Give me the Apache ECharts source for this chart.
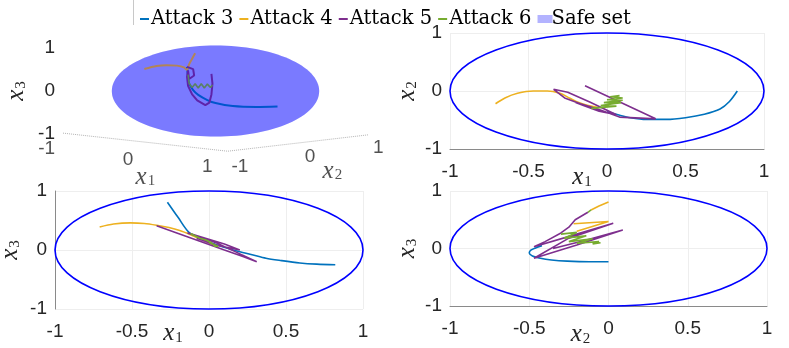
<!DOCTYPE html>
<html>
<head>
<meta charset="utf-8">
<script src="https://cdn.jsdelivr.net/npm/echarts@6/dist/echarts.min.js"></script>
<style>
html, body { margin: 0; padding: 0; background: #fff; }
#chart { width: 789px; height: 348px; }
</style>
</head>
<body>
<div id="chart"></div>
<script>
// legend names
const attackNames = ['Attack 3', 'Attack 4', 'Attack 5', 'Attack 6'];
const attackColors = ['#0072BD', '#EDB120', '#7E2F8E', '#77AC30'];

// safe set: [cx, cy, rx, ry] in each panel's units
const safe3d = [[0, 0, 1.02, 1.06]];
const safe2d = [[0, 0, 1, 1]];

// 3D panel (projected screen units u, v)
const a3_3d = [[0.61,-0.36],[0.4,-0.37],[0.17,-0.35],[0.0,-0.28],[-0.08,-0.21],[-0.17,-0.09],[-0.22,0.02],[-0.26,0.18],[-0.27,0.33],[-0.28,0.56]];
const a4_3d = [[-0.7,0.51],[-0.58,0.58],[-0.48,0.6],[-0.38,0.59],[-0.31,0.55],[-0.28,0.49],[-0.26,0.62],[-0.23,0.75],[-0.2,0.88]];
const a5_3d = [[-0.28,0.56],[-0.22,0.51],[-0.21,0.36],[-0.26,0.28],[-0.27,0.48],[-0.28,0.33],[-0.27,0.12],[-0.23,-0.08],[-0.18,-0.22],[-0.1,-0.33],[-0.06,-0.27],[-0.04,-0.08],[-0.03,0.17],[-0.04,0.4]];
const a6_3d = [[-0.27,0.38],[-0.26,0.18],[-0.23,0.08],[-0.2,0.17],[-0.17,0.07],[-0.14,0.17],[-0.11,0.07],[-0.08,0.16],[-0.05,0.08],[-0.03,0.14]];
const boxU = [-1.5, 0.12, 1.5];
const boxV = [-0.98, -1.4, -1.02];
const ticks3d = [['-1', -1.66, -1.35], ['0', -0.86, -1.6], ['1', -0.08, -1.77], ['-1', 0.24, -1.77], ['0', 0.93, -1.53], ['1', 1.6, -1.33]];
const names3d = [['{x|x}{s|1}', -0.69, -2.0], ['{x|x}{s|2}', 1.15, -1.86]];

// x1 vs x2
const a3_12 = [[0.83,0.0],[0.78,-0.18],[0.72,-0.31],[0.62,-0.4],[0.5,-0.46],[0.38,-0.49],[0.25,-0.49],[0.15,-0.46],[0.07,-0.41],[0.0,-0.36]];
const a4_12 = [[-0.71,-0.22],[-0.65,-0.12],[-0.57,-0.04],[-0.47,0.0],[-0.38,0.0],[-0.3,-0.04],[-0.24,-0.12],[-0.18,-0.2],[-0.12,-0.25],[-0.06,-0.28]];
const a5_12 = [[-0.14,0.09],[0.31,-0.48],[0.08,-0.45],[-0.06,-0.31],[-0.17,-0.22],[-0.27,-0.12],[-0.34,0.03],[-0.25,-0.02],[-0.11,-0.19],[0.06,-0.41],[-0.05,-0.35],[-0.15,-0.25],[-0.2,-0.2]];
const a6_12 = [[-0.1,-0.3],[0.06,-0.26],[-0.04,-0.25],[0.09,-0.2],[-0.02,-0.2],[0.1,-0.16],[0.0,-0.15],[0.1,-0.12],[0.02,-0.1],[0.08,-0.08]];

// x1 vs x3
const a3_13 = [[0.82,-0.25],[0.7,-0.24],[0.59,-0.22],[0.47,-0.18],[0.37,-0.14],[0.28,-0.08],[0.2,-0.03],[0.12,0.03],[0.05,0.09],[-0.04,0.18],[-0.13,0.3],[-0.2,0.55],[-0.27,0.81]];
const a4_13 = [[-0.71,0.39],[-0.62,0.44],[-0.51,0.46],[-0.42,0.45],[-0.34,0.42],[-0.26,0.38],[-0.19,0.33],[-0.12,0.26],[-0.05,0.18],[0.03,0.09]];
const a5_13 = [[-0.34,0.41],[-0.2,0.28],[-0.05,0.14],[0.1,0.0],[0.22,-0.11],[0.31,-0.2],[0.18,-0.04],[0.05,0.12],[-0.05,0.21],[-0.14,0.29],[-0.05,0.22],[0.1,0.1],[0.2,0.0],[0.05,0.08],[-0.08,0.2]];
const a6_13 = [[-0.12,0.28],[-0.06,0.2],[-0.02,0.17],[0.02,0.12],[0.0,0.13],[0.06,0.06],[0.03,0.07]];

// x2 vs x3
const a3_23 = [[0.0,-0.23],[-0.12,-0.23],[-0.26,-0.22],[-0.36,-0.2],[-0.43,-0.17],[-0.48,-0.13],[-0.5,-0.08],[-0.49,-0.03],[-0.46,0.01],[-0.42,0.05]];
const a4_23a = [[0.0,0.81],[-0.06,0.74],[-0.11,0.67]];
const a4_23b = [[-0.22,0.43],[0.0,0.47],[-0.2,0.3]];
const a5_23 = [[-0.13,0.63],[-0.21,0.5],[-0.25,0.37],[-0.3,0.27],[-0.4,0.12],[-0.47,0.03],[-0.2,0.25],[0.03,0.44],[-0.25,0.18],[-0.47,-0.17],[-0.2,0.06],[0.09,0.32],[-0.15,0.14],[-0.35,0.0]];
const a6_23 = [[-0.11,0.67],[-0.13,0.63],null,[-0.3,0.25],[-0.2,0.28],[-0.28,0.18],[-0.14,0.22],[-0.25,0.12],[-0.1,0.17],[-0.2,0.09],[-0.06,0.12],[-0.1,0.08],[-0.05,0.1]];

const axisColor = '#262626';
const tickFont = { fontFamily: 'Liberation Sans', fontSize: 19, color: axisColor };
const nameRich = {
  x: { fontFamily: 'Liberation Serif', fontStyle: 'italic', fontSize: 25, color: axisColor },
  s: { fontFamily: 'Liberation Serif', fontSize: 15, color: axisColor, padding: [9, 0, 0, 1] }
};
const faint = { show: true, lineStyle: { color: '#eeeeee', width: 1 } };

function xAx(grid, name, showLine, gap, shift) {
  return {
    type: 'value', gridIndex: grid, min: -1, max: 1, interval: 0.5,
    axisLine: { show: showLine, onZero: false, lineStyle: { color: '#8a8a8a' } },
    axisTick: { show: false },
    axisLabel: Object.assign({ margin: 13 }, tickFont),
    splitLine: faint,
    name: name, nameLocation: 'middle', nameGap: gap, nameMoveOverlap: false,
    nameTextStyle: { rich: nameRich, padding: [0, shift, 0, 0] }
  };
}
function yAx(grid, name, showLine, gap) {
  return {
    type: 'value', gridIndex: grid, min: -1, max: 1, interval: 1,
    axisLine: { show: showLine, onZero: false, lineStyle: { color: '#8a8a8a' } },
    axisTick: { show: false },
    axisLabel: Object.assign({ margin: 8 }, tickFont),
    splitLine: faint,
    name: name, nameLocation: 'middle', nameGap: gap, nameRotate: 90, nameMoveOverlap: false,
    nameTextStyle: { rich: nameRich }
  };
}

// the 3D safe set is a translucent surface: a back layer under the paths, a front layer over them
function ellipseSeries(idx, fill, z) {
  return {
    type: 'custom', name: 'Safe set', xAxisIndex: idx, yAxisIndex: idx,
    z: z, silent: true,
    itemStyle: { color: '#b3b3ff' },
    data: fill ? safe3d : safe2d,
    renderItem: function (params, api) {
      const c = api.coord([api.value(0), api.value(1)]);
      const s = api.size([api.value(2), api.value(3)]);
      return {
        type: 'ellipse',
        shape: { cx: c[0], cy: c[1], rx: s[0], ry: s[1] },
        style: fill
          ? { fill: fill, stroke: null }
          : { fill: null, stroke: '#0000ff', lineWidth: 1.6 }
      };
    }
  };
}
function lineSeries(idx, k, data, smooth, width) {
  return {
    type: 'line', name: attackNames[k], xAxisIndex: idx, yAxisIndex: idx,
    data: data, symbol: 'none', z: 2, clip: false, smooth: smooth || false,
    color: attackColors[k],
    itemStyle: { color: attackColors[k] },
    lineStyle: { width: width || 1.6, color: attackColors[k] }
  };
}

const series = [
  ellipseSeries(0, 'rgba(0,0,255,0.36)', 1),
  lineSeries(0, 0, a3_3d, 0.3, 2), lineSeries(0, 1, a4_3d, 0.3, 2), lineSeries(0, 2, a5_3d, false, 2), lineSeries(0, 3, a6_3d, false, 1.6),
  ellipseSeries(0, 'rgba(0,0,255,0.25)', 5),
  {
    type: 'line', xAxisIndex: 0, yAxisIndex: 0, symbol: 'none', clip: false, silent: true,
    data: boxU.map((u, i) => [u, boxV[i]]),
    lineStyle: { color: '#b4b4b4', width: 1, type: 'dotted' }
  },
  {
    type: 'scatter', xAxisIndex: 0, yAxisIndex: 0, symbolSize: 0, clip: false, silent: true,
    data: ticks3d.map(t => ({ name: t[0], value: [t[1], t[2]] })),
    label: Object.assign({ show: true, position: 'inside', formatter: '{b}' }, tickFont)
  },
  {
    type: 'scatter', xAxisIndex: 0, yAxisIndex: 0, symbolSize: 0, clip: false, silent: true,
    data: names3d.map(t => ({ name: t[0], value: [t[1], t[2]] })),
    label: { show: true, position: 'inside', formatter: '{b}', rich: nameRich }
  },
  ellipseSeries(1, null, 1),
  lineSeries(1, 0, a3_12, 0.3), lineSeries(1, 1, a4_12, 0.3), lineSeries(1, 2, a5_12), lineSeries(1, 3, a6_12),
  ellipseSeries(2, null, 1),
  lineSeries(2, 0, a3_13, 0.3), lineSeries(2, 1, a4_13, 0.3), lineSeries(2, 2, a5_13), lineSeries(2, 3, a6_13),
  ellipseSeries(3, null, 1),
  lineSeries(3, 0, a3_23, 0.3), lineSeries(3, 1, a4_23a), lineSeries(3, 1, a4_23b), lineSeries(3, 2, a5_23), lineSeries(3, 3, a6_23)
];

const gridBase = { containLabel: false, outerBoundsMode: 'none' };

const chart = echarts.init(document.getElementById('chart'));
chart.setOption({
  animation: false,
  backgroundColor: '#ffffff',
  legend: {
    left: 135, top: 4, itemWidth: 9, itemHeight: 2, itemGap: 6, icon: 'rect',
    textStyle: { fontFamily: 'DejaVu Serif', fontSize: 19.5, color: '#000', padding: [0, 0, 0, -3] },
    data: attackNames.map(n => ({ name: n }))
      .concat([{ name: 'Safe set', itemStyle: { color: '#b3b3ff', borderColor: '#b3b3ff', borderWidth: 6 } }])
  },
  graphic: [{ type: 'line', shape: { x1: 133.5, y1: 0, x2: 133.5, y2: 25 }, style: { stroke: '#c8c8c8', lineWidth: 1 } }],
  grid: [
    Object.assign({ left: 63, top: 48, width: 305, height: 86 }, gridBase),
    Object.assign({ left: 450, top: 33, width: 314, height: 116 }, gridBase),
    Object.assign({ left: 55, top: 191, width: 308, height: 118 }, gridBase),
    Object.assign({ left: 450, top: 191, width: 317, height: 115 }, gridBase)
  ],
  xAxis: [
    { type: 'value', gridIndex: 0, min: -1.5, max: 1.5, show: false },
    xAx(1, '{x|x}{s|1}', true, 16, 50),
    xAx(2, '{x|x}{s|1}', false, 12, 72),
    xAx(3, '{x|x}{s|2}', true, 16, 56)
  ],
  yAxis: [
    Object.assign(yAx(0, '{x|x}{s|3}', false, 34), { splitLine: { show: false } }),
    yAx(1, '{x|x}{s|2}', false, 30),
    yAx(2, '{x|x}{s|3}', true, 32),
    yAx(3, '{x|x}{s|3}', false, 30)
  ],
  series: series
});
</script>
</body>
</html>
